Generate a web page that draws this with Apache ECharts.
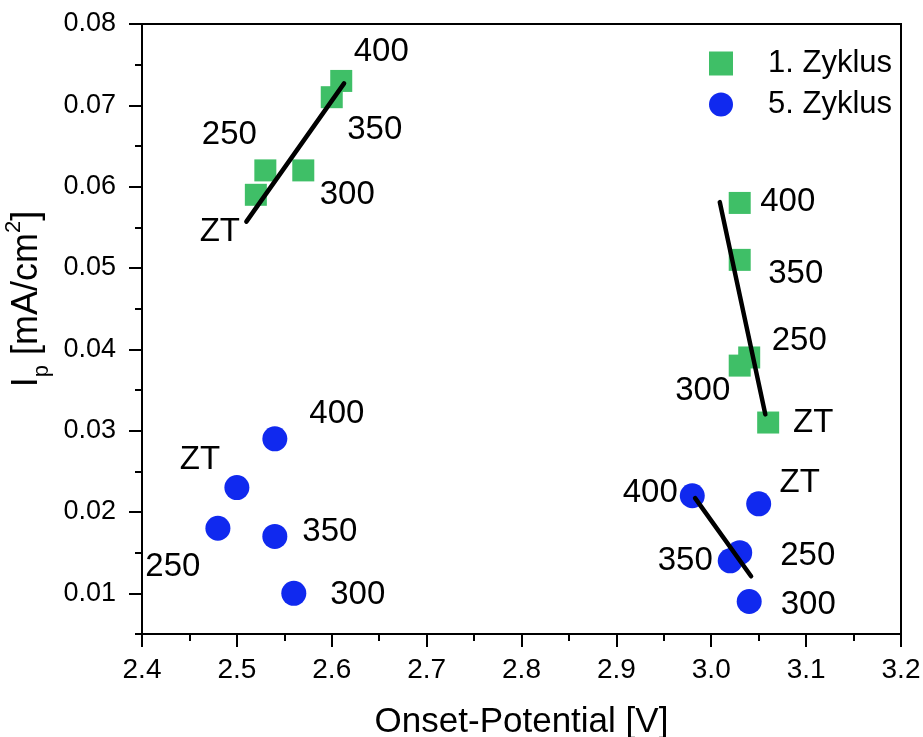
<!DOCTYPE html>
<html>
<head>
<meta charset="utf-8">
<script src="https://cdn.jsdelivr.net/npm/echarts@6/dist/echarts.min.js"></script>
<style>html,body{margin:0;padding:0;background:#fff}#c{width:923px;height:737px}</style>
</head>
<body>
<div id="c"></div>
<script>
// ---- data ----
const cycle1Names = ['ZT','250','300','350','400','400','350','250','300','ZT'];
const cycle1X = [2.52, 2.53, 2.57, 2.60, 2.61, 3.03, 3.03, 3.04, 3.03, 3.06];
const cycle1Y = [0.059, 0.062, 0.062, 0.071, 0.073, 0.058, 0.051, 0.039, 0.038, 0.031];

const cycle5Names = ['400','ZT','250','350','300','400','ZT','250','350','300'];
const cycle5X = [2.54, 2.50, 2.48, 2.54, 2.56, 2.98, 3.05, 3.03, 3.02, 3.04];
const cycle5Y = [0.029, 0.023, 0.018, 0.017, 0.010, 0.022, 0.021, 0.015, 0.014, 0.009];

const trendA_X = [2.510, 2.613];
const trendA_Y = [0.0557, 0.0727];
const trendB_X = [3.009, 3.057];
const trendB_Y = [0.0581, 0.0320];
const trendC_X = [2.983, 3.042];
const trendC_Y = [0.0217, 0.0121];

const xTicks = [2.4, 2.5, 2.6, 2.7, 2.8, 2.9, 3.0, 3.1, 3.2];
const yTicks = [0.01, 0.02, 0.03, 0.04, 0.05, 0.06, 0.07, 0.08];
const yMinorTicks = [0.005, 0.015, 0.025, 0.035, 0.045, 0.055, 0.065, 0.075];

// ---- label offsets (style) ----
const cycle1Offsets = [[-36,37],[-36,-35],[44,25],[43,33],[40,-29],[48,-1],[56,14],[50,-17],[-37,25],[45,0]];
const cycle5Offsets = [[62,-25],[-37,-28],[-45,39],[55,-4],[64,2],[-42,-3],[41,-21],[68,3],[-45,0],[59,3]];

const FONT = "'Liberation Sans', Arial, Helvetica, sans-serif";
const GREEN = '#3fbf67';
const BLUE = '#1029ef';

function pts(xs, ys, names, offs) {
  return xs.map((x, i) => ({
    value: [x, ys[i]],
    name: names ? names[i] : undefined,
    label: offs ? { offset: offs[i] } : undefined
  }));
}
function line(xs, ys) { return xs.map((x, i) => [x, ys[i]]); }

const chart = echarts.init(document.getElementById('c'), null, { renderer: 'canvas' });
const labelStyle = {
  show: true, position: 'inside', formatter: p => p.name,
  color: '#000', fontSize: 33, fontFamily: FONT
};
const trendStyle = { color: '#000', width: 4.5, cap: 'round' };

chart.setOption({
  animation: false,
  backgroundColor: '#fff',
  textStyle: { fontFamily: FONT },
  grid: {
    left: 142, right: 22, top: 24, bottom: 103, containLabel: false, outerBoundsMode: 'none',
    show: true, borderColor: '#000', borderWidth: 2, backgroundColor: 'transparent'
  },
  legend: {
    orient: 'vertical', left: 709, top: 48, itemGap: 10, padding: 0,
    itemWidth: 24, itemHeight: 24,
    data: ['1. Zyklus', '5. Zyklus'],
    textStyle: { fontSize: 31, color: '#000', fontFamily: FONT, padding: [0, 0, 0, 30] }
  },
  xAxis: {
    type: 'value', min: 2.4, max: 3.2, interval: 0.1,
    name: 'Onset-Potential [V]', nameLocation: 'middle', nameGap: 71,
    nameTextStyle: { fontSize: 35, color: '#000', fontFamily: FONT },
    axisLine: { show: true, onZero: false, lineStyle: { color: '#000', width: 2 } },
    axisTick: { show: true, inside: false, length: 13, lineStyle: { color: '#000', width: 2 } },
    minorTick: { show: true, splitNumber: 2, length: 7, lineStyle: { color: '#000', width: 2 } },
    axisLabel: { fontSize: 28, color: '#000', margin: 22, formatter: v => v.toFixed(1), customValues: xTicks },
    splitLine: { show: false }, minorSplitLine: { show: false }
  },
  yAxis: [{
    type: 'value', min: 0.005, max: 0.08, position: 'left', offset: 0,
    name: '{a|I}{s|p}{a| [mA/cm}{t|2}{a|]}', nameLocation: 'middle', nameGap: 82, nameRotate: 90,
    nameTextStyle: {
      color: '#000', fontFamily: FONT, padding: [0, 0, 0, 60],
      rich: {
        a: { fontSize: 36, color: '#000', fontFamily: FONT, lineHeight: 50, verticalAlign: 'middle' },
        s: { fontSize: 22, color: '#000', fontFamily: FONT, lineHeight: 50, verticalAlign: 'bottom' },
        t: { fontSize: 22, color: '#000', fontFamily: FONT, lineHeight: 50, verticalAlign: 'top' }
      }
    },
    axisLine: { show: true, onZero: false, lineStyle: { color: '#000', width: 2 } },
    axisTick: { show: true, inside: false, length: 13, customValues: yTicks, lineStyle: { color: '#000', width: 2 } },
    axisLabel: { fontSize: 27, color: '#000', margin: 26, customValues: yTicks, formatter: v => v.toFixed(2) },
    splitLine: { show: false }
  }, {
    type: 'value', min: 0.005, max: 0.08, position: 'left', offset: 0,
    axisLine: { show: true, onZero: false, lineStyle: { color: '#000', width: 2 } },
    axisTick: { show: true, inside: false, length: 7, customValues: yMinorTicks, lineStyle: { color: '#000', width: 2 } },
    axisLabel: { show: false },
    splitLine: { show: false }
  }],
  series: [
    {
      name: '1. Zyklus', type: 'scatter', symbol: 'rect', symbolSize: 22, z: 2,
      itemStyle: { color: GREEN, opacity: 1 },
      label: labelStyle,
      data: pts(cycle1X, cycle1Y, cycle1Names, cycle1Offsets)
    },
    {
      name: '5. Zyklus', type: 'scatter', symbol: 'circle', symbolSize: 25, z: 2,
      itemStyle: { color: BLUE, opacity: 1 },
      label: labelStyle,
      data: pts(cycle5X, cycle5Y, cycle5Names, cycle5Offsets)
    },
    { name: 'trendA', type: 'line', showSymbol: false, symbol: 'none', z: 5, lineStyle: trendStyle, data: line(trendA_X, trendA_Y) },
    { name: 'trendB', type: 'line', showSymbol: false, symbol: 'none', z: 5, lineStyle: trendStyle, data: line(trendB_X, trendB_Y) },
    { name: 'trendC', type: 'line', showSymbol: false, symbol: 'none', z: 5, lineStyle: trendStyle, data: line(trendC_X, trendC_Y) }
  ]
});
</script>
</body>
</html>
